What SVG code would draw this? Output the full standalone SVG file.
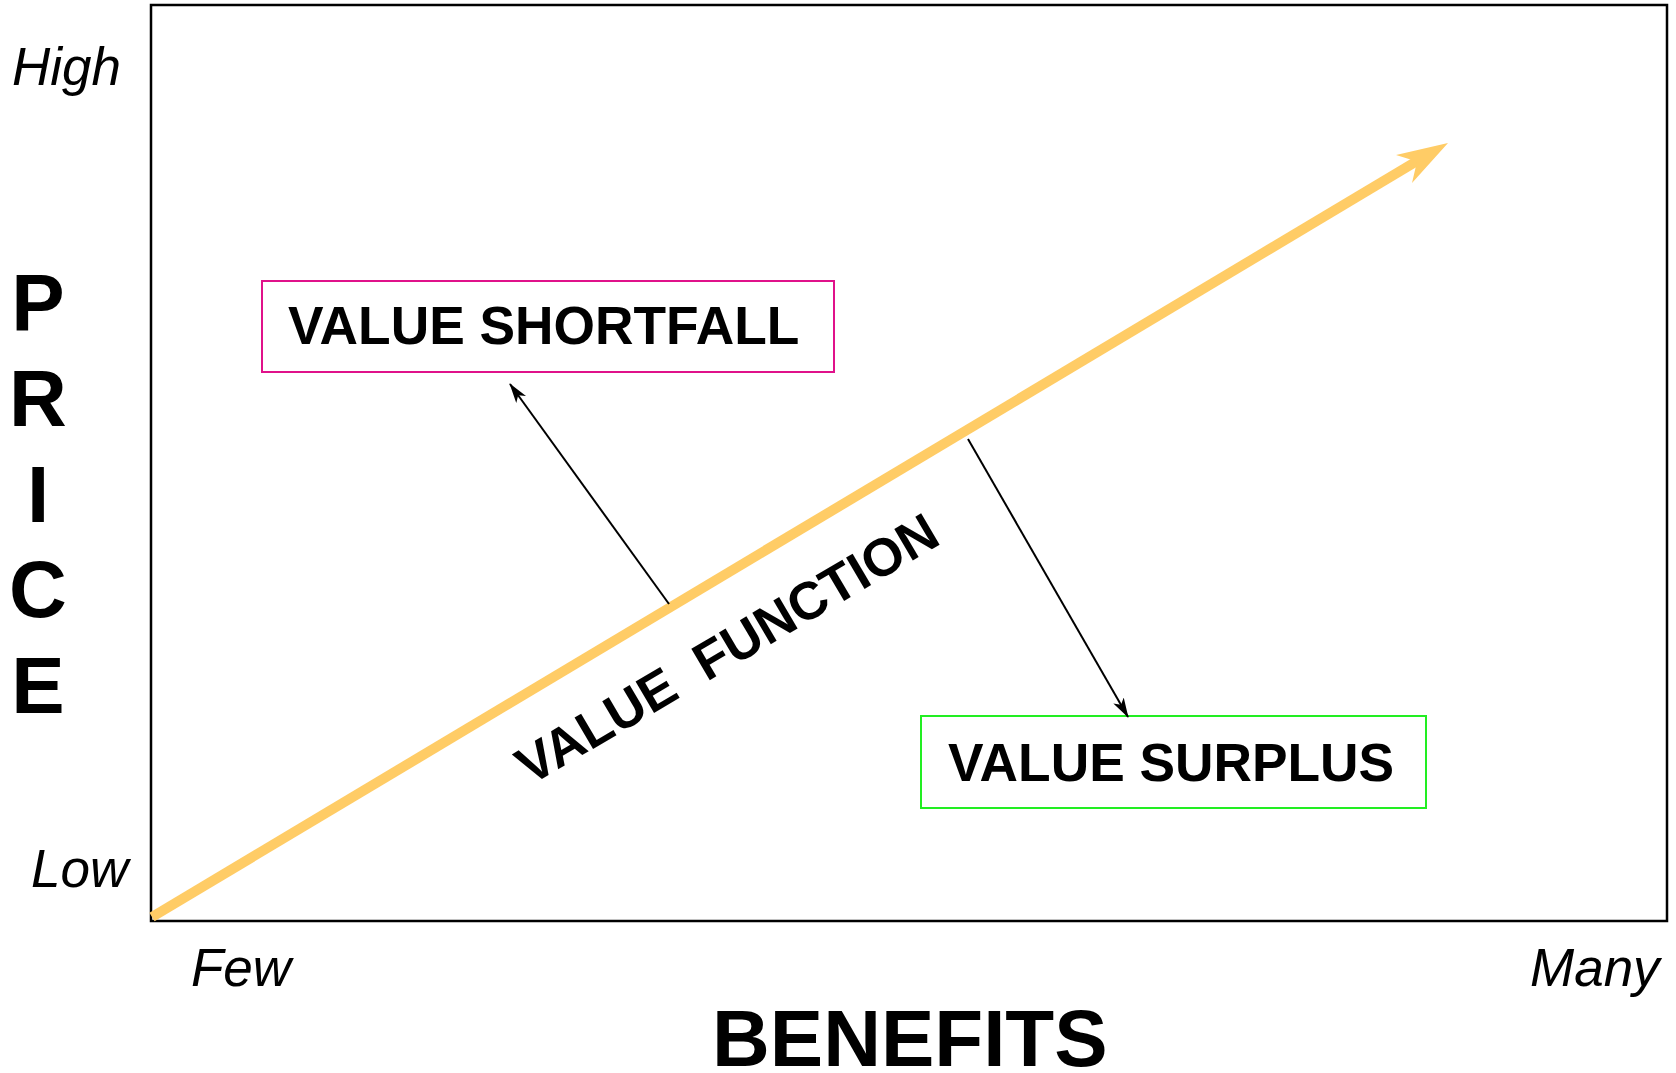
<svg xmlns="http://www.w3.org/2000/svg" width="1676" height="1073" viewBox="0 0 1676 1073">
<defs>
<style>
.ax{font-family:"Liberation Sans",Arial,sans-serif;font-style:italic;font-size:53px;fill:#000}
.big{font-family:"Liberation Sans",Arial,sans-serif;font-weight:bold;font-size:80px;fill:#000}
.lbl{font-family:"Liberation Sans",Arial,sans-serif;font-weight:bold;font-size:53.3px;fill:#000}
.conn{stroke:#000;stroke-width:2;fill:none}
</style>
<marker id="ah" viewBox="0 0 20 12" refX="19" refY="6" markerWidth="20" markerHeight="12" markerUnits="userSpaceOnUse" orient="auto">
<path d="M0,0 L20,6 L0,12 L5,6 Z" fill="#000"/>
</marker>
</defs>
<rect width="1676" height="1073" fill="#fff"/>
<g id="frame">
<rect x="151" y="5" width="1516" height="916" fill="none" stroke="#000" stroke-width="2.5"/>
</g>
<g id="axis-labels">
<text class="ax" x="12" y="85">High</text>
<text class="ax" x="31" y="887">Low</text>
<text class="ax" x="191" y="986">Few</text>
<text class="ax" x="1530" y="986">Many</text>
<text class="big" x="712" y="1066">BENEFITS</text>
<g text-anchor="middle">
<text class="big" x="38" y="330">P</text>
<text class="big" x="38" y="426">R</text>
<text class="big" x="38" y="522">I</text>
<text class="big" x="38" y="617">C</text>
<text class="big" x="38" y="713">E</text>
</g>
</g>
<g id="value-function">
<line x1="152" y1="917" x2="1417" y2="161" stroke="#FFCC66" stroke-width="10"/>
<path d="M1448,143 L1396,155 L1417,161.5 L1412,183 Z" fill="#FFCC66"/>
<text class="lbl" style="font-size:53px" transform="translate(530,786) rotate(-30.5)" xml:space="preserve">VALUE  FUNCTION</text>
</g>
<g id="shortfall">
<rect x="262" y="281" width="572" height="91" fill="none" stroke="#E0118A" stroke-width="2"/>
<text class="lbl" x="288" y="344">VALUE SHORTFALL</text>
</g>
<g id="surplus">
<rect x="921" y="716" width="505" height="92" fill="none" stroke="#22EE22" stroke-width="2"/>
<text class="lbl" x="948" y="781">VALUE SURPLUS</text>
</g>
<g id="connectors">
<line class="conn" x1="669" y1="604" x2="510" y2="384" marker-end="url(#ah)"/>
<line class="conn" x1="968" y1="439" x2="1128" y2="717" marker-end="url(#ah)"/>
</g>
</svg>
